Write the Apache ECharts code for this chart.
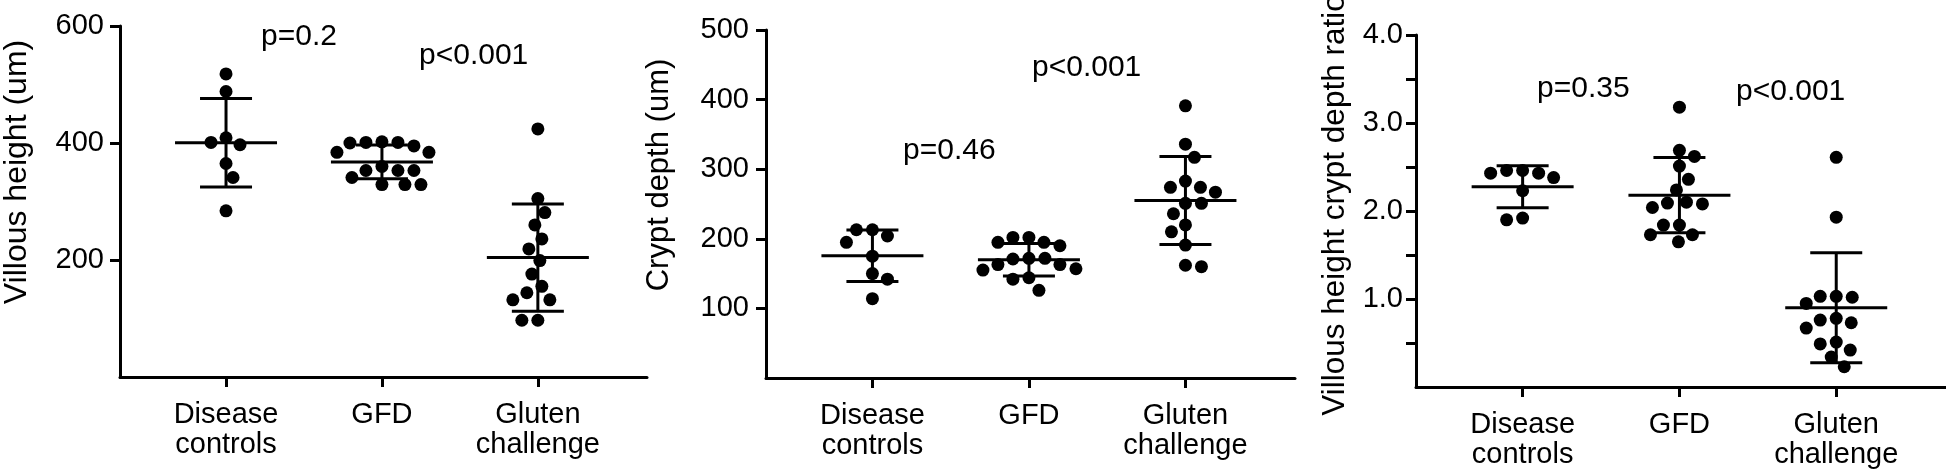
<!DOCTYPE html>
<html>
<head>
<meta charset="utf-8">
<script src="https://cdn.jsdelivr.net/npm/echarts@6.0.0/dist/echarts.min.js"></script>
<style>
  html, body { margin: 0; padding: 0; background: #fff; }
  #chart { width: 1946px; height: 469px; }
</style>
</head>
<body>
<div id="chart"></div>
<script>
// ---------------- data ----------------
const categories = ['Disease\ncontrols', 'GFD', 'Gluten\nchallenge'];

const villousDisease = [518, 488, 409, 401, 397, 365, 341, 284];
const villousGFD     = [402, 401, 401, 400, 395, 384, 384, 360, 353, 353, 353, 341, 329, 329, 329];
const villousGluten  = [424, 305, 281, 260, 236, 219, 199, 176, 155, 144, 132, 132, 97, 97];

const cryptDisease = [213, 213, 204, 195, 175, 150, 142, 114];
const cryptGFD     = [202, 202, 195, 195, 190, 172, 172, 171, 163, 163, 157, 155, 144, 142, 126];
const cryptGluten  = [391, 336, 317, 283, 274, 274, 267, 251, 251, 236, 220, 210, 191, 162, 160];

const ratioDisease = [2.46, 2.46, 2.43, 2.43, 2.38, 2.23, 1.92, 1.90];
const ratioGFD     = [3.18, 2.69, 2.62, 2.51, 2.36, 2.24, 2.10, 2.09, 2.08, 2.04, 1.84, 1.84, 1.73, 1.73, 1.65];
const ratioGluten  = [2.61, 1.93, 1.03, 1.03, 1.02, 0.95, 0.78, 0.76, 0.73, 0.67, 0.51, 0.49, 0.42, 0.34, 0.23];

const villousTicks = [200, 400, 600];
const cryptTicks = [100, 200, 300, 400, 500];
const ratioTicks = [0.5, 1, 1.5, 2, 2.5, 3, 3.5, 4];
const ratioLabels = [1, 2, 3, 4];

const yTitles = ['Villous height (um)', 'Crypt depth (um)', 'Villous height crypt depth ratio'];
const pTexts = [['p=0.2', 'p<0.001'], ['p=0.46', 'p<0.001'], ['p=0.35', 'p<0.001']];

// ---------------- layout / style ----------------
const FONT = "'Liberation Sans', Arial, Helvetica, sans-serif";
const XMIN = 0.32, XMAX = 3.70;
const DOT = 13;

const panels = [
  { groups: [villousDisease, villousGFD, villousGluten], ymax: 600, ticks: villousTicks, labels: villousTicks,
    fmt: v => String(v), left: 120, top: 26, width: 527, height: 351, labelMargin: 16,
    title: { x: 17, y: 172, size: 32 },
    p: [{ x: 261, y: 37 }, { x: 419, y: 56 }] },
  { groups: [cryptDisease, cryptGFD, cryptGluten], ymax: 500, ticks: cryptTicks, labels: cryptTicks,
    fmt: v => String(v), left: 766, top: 30, width: 529, height: 348, labelMargin: 17,
    title: { x: 659, y: 175, size: 31 },
    p: [{ x: 903, y: 151 }, { x: 1032, y: 68 }] },
  { groups: [ratioDisease, ratioGFD, ratioGluten], ymax: 4, ticks: ratioTicks, labels: ratioLabels,
    fmt: v => v.toFixed(1), left: 1416, top: 35, width: 530, height: 352, labelMargin: 13,
    title: { x: 1335, y: 205, size: 31.5 },
    p: [{ x: 1537, y: 89 }, { x: 1736, y: 92 }] }
];

function mean(a) { return a.reduce((s, v) => s + v, 0) / a.length; }
function sd(a) { const m = mean(a); return Math.sqrt(a.reduce((s, v) => s + (v - m) * (v - m), 0) / (a.length - 1)); }

// simple beeswarm: spread points horizontally so dots do not overlap
function swarm(values, kx, ky) {
  const order = values.map((v, i) => ({ v, i })).sort((a, b) => b.v - a.v);
  const placed = [];
  const offs = new Array(values.length).fill(0);
  const D = DOT * 1.2;
  order.forEach((p, n) => {
    const py = p.v * ky;
    let chosen = 0;
    for (let k = 0; k < 400; k++) {
      const cands = (n % 2 === 0) ? [k, -k] : [-k, k];
      let ok = null;
      for (const d of cands) {
        if (placed.every(q => (q.x - d) * (q.x - d) + (q.y - py) * (q.y - py) >= D * D)) { ok = d; break; }
      }
      if (ok !== null) { chosen = ok; break; }
    }
    placed.push({ x: chosen, y: py });
    offs[p.i] = chosen / kx;
  });
  return offs;
}

const grid = [], xAxis = [], yAxis = [], series = [], graphic = [];

panels.forEach((P, pi) => {
  grid.push({ left: P.left, top: P.top, width: P.width, height: P.height, containLabel: false, outerBoundsMode: 'none' });
  xAxis.push({
    gridIndex: pi, type: 'value', min: XMIN, max: XMAX,
    axisLine: { show: true, lineStyle: { color: '#000', width: 3 } },
    axisTick: { show: true, customValues: [1, 2, 3], length: 10, lineStyle: { color: '#000', width: 3 } },
    axisLabel: { show: true, customValues: [1, 2, 3], formatter: v => categories[Math.round(v) - 1],
      color: '#000', fontFamily: FONT, fontSize: 29, lineHeight: 30, margin: 23 },
    splitLine: { show: false }
  });
  yAxis.push({
    gridIndex: pi, type: 'value', min: 0, max: P.ymax,
    axisLine: { show: true, lineStyle: { color: '#000', width: 3 } },
    axisTick: { show: true, customValues: P.ticks, length: 10, lineStyle: { color: '#000', width: 3 } },
    axisLabel: { show: true, customValues: P.labels, formatter: P.fmt,
      color: '#000', fontFamily: FONT, fontSize: 29, margin: P.labelMargin },
    splitLine: { show: false }
  });

  const kx = P.width / (XMAX - XMIN);
  const ky = P.height / P.ymax;
  const pts = [];
  const bars = [];
  P.groups.forEach((g, gi) => {
    const offs = swarm(g, kx, ky);
    g.forEach((v, i) => pts.push([gi + 1 + offs[i], v]));
    bars.push([gi + 1, mean(g), sd(g)]);
  });
  series.push({
    type: 'scatter', xAxisIndex: pi, yAxisIndex: pi, data: pts,
    symbol: 'circle', symbolSize: DOT, itemStyle: { color: '#000', opacity: 1 },
    silent: true, animation: false, z: 2
  });
  series.push({
    type: 'custom', xAxisIndex: pi, yAxisIndex: pi, data: bars, silent: true, animation: false, z: 3,
    renderItem: (params, api) => {
      const x = api.value(0), m = api.value(1), s = api.value(2);
      const c = api.coord([x, m]), t = api.coord([x, m + s]), b = api.coord([x, m - s]);
      const st = { stroke: '#000', lineWidth: 3 };
      return { type: 'group', children: [
        { type: 'line', shape: { x1: c[0] - 51, y1: c[1], x2: c[0] + 51, y2: c[1] }, style: st },
        { type: 'line', shape: { x1: t[0] - 26, y1: t[1], x2: t[0] + 26, y2: t[1] }, style: st },
        { type: 'line', shape: { x1: b[0] - 26, y1: b[1], x2: b[0] + 26, y2: b[1] }, style: st },
        { type: 'line', shape: { x1: c[0], y1: t[1], x2: c[0], y2: b[1] }, style: st }
      ] };
    }
  });

  graphic.push({
    type: 'text', x: P.title.x, y: P.title.y, rotation: Math.PI / 2,
    style: { text: yTitles[pi], fill: '#000', font: P.title.size + 'px ' + FONT, align: 'center', verticalAlign: 'middle' }
  });
  P.p.forEach((pp, k) => {
    graphic.push({
      type: 'text', x: pp.x, y: pp.y,
      style: { text: pTexts[pi][k], fill: '#000', font: '30px ' + FONT, align: 'left', verticalAlign: 'middle' }
    });
  });
});

const chart = echarts.init(document.getElementById('chart'), null, { renderer: 'canvas' });
chart.setOption({
  backgroundColor: '#fff',
  animation: false,
  grid, xAxis, yAxis, series, graphic
});
</script>
</body>
</html>
